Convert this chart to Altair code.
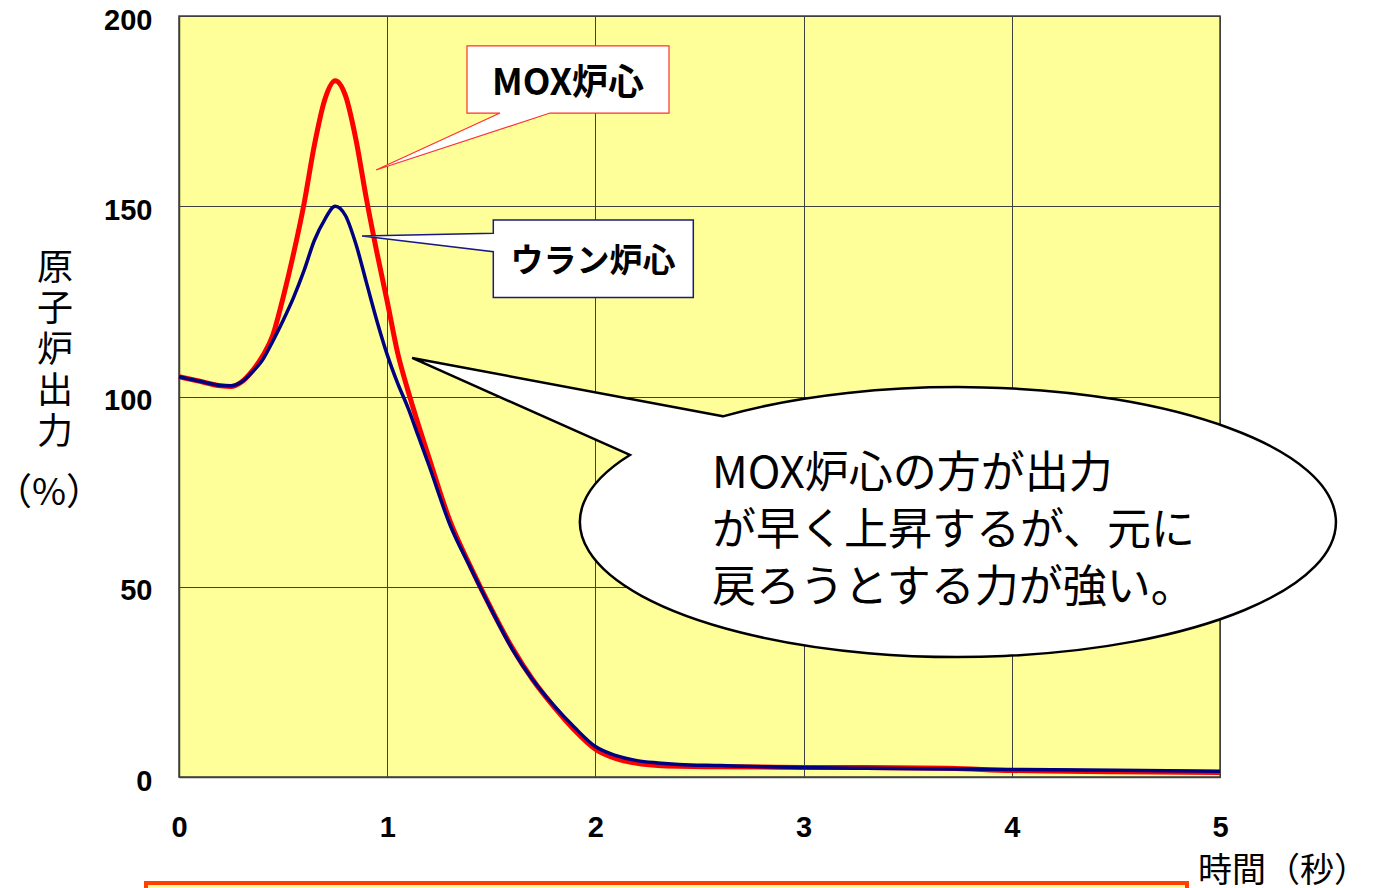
import altair as alt
import pandas as pd

# ---- data ----
times = [0, 0.1, 0.2, 0.25, 0.3, 0.35, 0.4, 0.45, 0.5, 0.55, 0.6, 0.65, 0.7, 0.75,
         0.8, 0.85, 0.9, 0.95, 1.0, 1.05, 1.1, 1.15, 1.2, 1.3, 1.4, 1.5, 1.6, 1.7,
         1.8, 1.9, 2.0, 2.1, 2.2, 2.3, 2.4, 2.6, 2.8, 3.0, 3.3, 3.7, 4.0, 4.5, 5.0]
mox_power = [105.2, 104.0, 102.8, 102.6, 103.8, 106.6, 110.5, 116.0, 126.0, 137.5,
             150.5, 166.0, 178.0, 183.0, 179.0, 167.5, 152.0, 138.0, 125.0, 111.5,
             101.5, 92.5, 84.0, 67.5, 55.3, 44.2, 34.0, 25.5, 18.5, 12.3, 7.3, 4.8,
             3.6, 3.0, 2.8, 2.7, 2.6, 2.5, 2.5, 2.3, 1.7, 1.4, 1.2]
uranium_power = [105.2, 104.0, 102.9, 102.8, 103.8, 106.3, 109.5, 114.5, 120.0, 126.0,
                 133.0, 141.0, 146.5, 150.0, 147.5, 140.0, 130.0, 120.0, 111.0, 103.5,
                 97.0, 89.5, 82.0, 66.5, 55.0, 44.0, 33.7, 25.5, 18.8, 13.0, 8.0, 5.6,
                 4.3, 3.7, 3.3, 3.0, 2.7, 2.5, 2.3, 2.1, 2.0, 1.8, 1.5]
series_names = ["MOX炉心", "ウラン炉心"]
x_ticks = [0, 1, 2, 3, 4, 5]
y_ticks = [0, 50, 100, 150, 200]
bubble_lines = ["MOX炉心の方が出力", "が早く上昇するが、元に", "戻ろうとする力が強い。"]
y_title_chars = ["原", "子", "炉", "出", "力"]
y_title_unit = "（%）"
x_title = "時間（秒）"

W, H = 1041, 761
JP = "Noto Sans CJK JP"

df_mox = pd.DataFrame({"t": times, "p": mox_power, "s": series_names[0]})
df_u = pd.DataFrame({"t": times, "p": uranium_power, "s": series_names[1]})
one = pd.DataFrame({"a": [0]})

x_enc = alt.X("t:Q", scale=alt.Scale(domain=[0, 5], nice=False), title=None,
              axis=alt.Axis(values=x_ticks, format="d", labelPadding=36, labelFlush=False))
y_enc = alt.Y("p:Q", scale=alt.Scale(domain=[0, 200], nice=False), title=None,
              axis=alt.Axis(values=y_ticks, format="d", labelPadding=27, labelOffset=4,
                            labelBaseline="middle"))

line_red = alt.Chart(df_mox).mark_line(color="#FF0000", strokeWidth=5, interpolate="monotone",
                                       strokeJoin="round").encode(x=x_enc, y=y_enc)
line_blue = alt.Chart(df_u).mark_line(color="#000080", strokeWidth=3.5, interpolate="monotone",
                                      strokeJoin="round").encode(x=x_enc, y=y_enc)

# callout shapes (custom symbol paths, unit = half-width)
mox_path = ("M-1,-0.332 L1,-0.332 L1,0.332 L-0.178,0.332 L-1.901,0.896 "
            "L-0.673,0.332 L-1,0.332 Z")
u_path = ("M-1,-0.387 L1,-0.387 L1,0.387 L-1,0.387 L-1,-0.07 L-2.313,-0.227 "
          "L-1,-0.254 Z")
bubble_path = ("M-0.622,-0.2795 L-1.444,-0.434 L-0.868,-0.1773 "
               "A1,0.357 0 1,0 -0.622,-0.2795 Z")

mox_box = alt.Chart(one).mark_point(shape=mox_path, filled=True, fill="white", stroke="#FF3030",
                                    strokeWidth=1.2, opacity=1, size=202 ** 2).encode(
    x=alt.value(389), y=alt.value(63.5))
u_box = alt.Chart(one).mark_point(shape=u_path, filled=True, fill="white", stroke="#1a1a80",
                                  strokeWidth=1.5, opacity=1, size=200 ** 2).encode(
    x=alt.value(414.3), y=alt.value(242.7))
bubble = alt.Chart(one).mark_point(shape=bubble_path, filled=True, fill="white", stroke="black",
                                   strokeWidth=2.5, opacity=1, size=756 ** 2).encode(
    x=alt.value(779), y=alt.value(506))

mox_text = alt.Chart(one).mark_text(text=series_names[0], font=JP, fontSize=36, fontWeight="bold",
                                    color="black", align="center", baseline="middle").encode(
    x=alt.value(389), y=alt.value(68))
u_text = alt.Chart(one).mark_text(text=series_names[1], font=JP, fontSize=33, fontWeight="bold",
                                  color="black", align="center", baseline="middle").encode(
    x=alt.value(414), y=alt.value(246))
bubble_text = alt.Chart(one).mark_text(text=bubble_lines, font=JP, fontSize=44, lineHeight=57,
                                       color="black", align="left", baseline="alphabetic").encode(
    x=alt.value(533), y=alt.value(472))

y_title = alt.Chart(one).mark_text(text=y_title_chars, font=JP, fontSize=36, lineHeight=41,
                                   color="black", align="center", baseline="alphabetic").encode(
    x=alt.value(-124), y=alt.value(264))
y_unit = alt.Chart(one).mark_text(text=y_title_unit, font=JP, fontSize=37, color="black",
                                  align="center", baseline="alphabetic").encode(
    x=alt.value(-130), y=alt.value(489))
x_title_mark = alt.Chart(one).mark_text(text=x_title, font=JP, fontSize=34, color="black",
                                        align="center", baseline="alphabetic").encode(
    x=alt.value(1104), y=alt.value(866))

orange_box = alt.Chart(one).mark_rect(fill="#FFFF99", stroke="#FF4000", strokeWidth=4).encode(
    x=alt.value(-33), x2=alt.value(1008), y=alt.value(867), y2=alt.value(920))

chart = alt.layer(
    line_red, line_blue, mox_box, u_box, bubble, mox_text, u_text, bubble_text,
    y_title, y_unit, x_title_mark, orange_box
).properties(
    width=W, height=H,
    padding={"left": 171, "top": 8, "right": 150, "bottom": 111},
    autosize=alt.AutoSizeParams(type="none"),
    background="white",
).configure_view(
    fill="#FFFF99", stroke="#404040", strokeWidth=1.5
).configure_axis(
    labelFont="Liberation Sans", labelFontWeight="bold", labelFontSize=29, labelColor="black",
    ticks=False, tickSize=0, domainColor="#404040", domainWidth=1.5,
    grid=True, gridColor="#404040", gridWidth=1, gridOpacity=1
)

chart.save("out.html", embed_options={"renderer": "svg", "actions": False})
